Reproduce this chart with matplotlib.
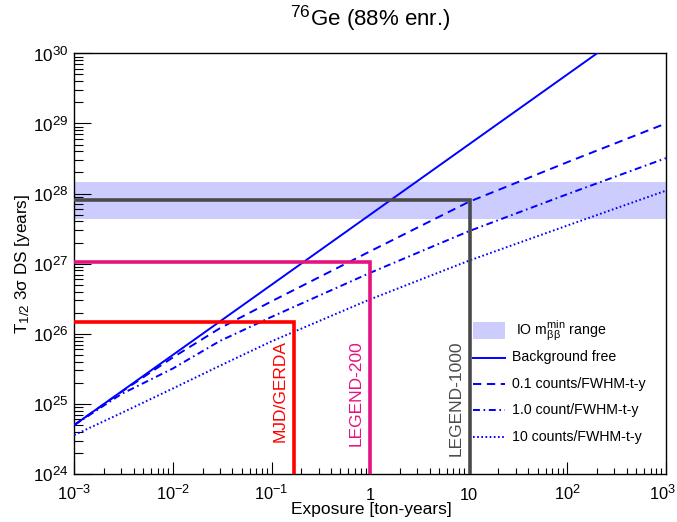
import numpy as np
import matplotlib
matplotlib.use('Agg')
import matplotlib.pyplot as plt
import matplotlib._mathtext as _mt
import matplotlib.transforms as mtransforms
from matplotlib.ticker import FixedLocator, FuncFormatter, NullFormatter
from matplotlib.patches import Rectangle
from matplotlib.lines import Line2D

_mt.SHRINK_FACTOR = 0.78

plt.rcParams['font.family'] = ['Liberation Sans', 'DejaVu Sans']
plt.rcParams['mathtext.fontset'] = 'custom'
plt.rcParams['mathtext.rm'] = 'Liberation Sans'
plt.rcParams['mathtext.it'] = 'Liberation Sans:italic'
plt.rcParams['mathtext.bf'] = 'Liberation Sans:bold'
plt.rcParams['mathtext.sf'] = 'Liberation Sans'
plt.rcParams['lines.scale_dashes'] = False

# ---------------- data ----------------
exposure_bf = [1e-3, 1e-2, 1e-1, 1, 10, 100, 1000]
t_bkg_free = [5.0e24, 5.0e25, 5.0e26, 5.0e27, 5.0e28, 5.0e29, 5.0e30]

exposure_bg = [1e-3, 3e-3, 1e-2, 3e-2, 1e-1, 1, 10, 100, 1000]
t_bg_01 = [5.0e24, 1.48e25, 4.6e25, 1.2e26, 2.9e26, 1.5e27, 7.6e27, 2.8e28, 1.0e29]
t_bg_1 = [5.0e24, 1.38e25, 3.2e25, 7.9e25, 1.74e26, 7.4e26, 2.9e27, 9.8e27, 3.2e28]
t_bg_10 = [3.6e24, 7.4e24, 1.66e25, 3.5e25, 7.8e25, 3.1e26, 1.1e27, 3.5e27, 1.1e28]

io_band = [4.3e27, 1.48e28]

exp_names = ['MJD/GERDA', 'LEGEND-200', 'LEGEND-1000']
exp_exposure = [0.168, 1.0, 10.2]
exp_t = [1.48e26, 1.04e27, 8.0e27]
exp_colors = ['#ff0000', '#e6137f', '#4a4a4a']

legend_labels = [r'IO m$_{\mathrm{ββ}}^{\mathrm{min}}$ range', 'Background free',
                 '0.1 counts/FWHM-t-y', '1.0 count/FWHM-t-y', '10 counts/FWHM-t-y']

xlim = (1e-3, 1e3)
ylim = (1e24, 1e30)

# ---------------- figure ----------------
W, H = 677, 522
fig = plt.figure(figsize=(W / 100, H / 100), dpi=100)
ax_l, ax_r, ax_t, ax_b = 74.3, 666.0, 53.3, 474.0
ax = fig.add_axes([ax_l / W, (H - ax_b) / H, (ax_r - ax_l) / W, (ax_b - ax_t) / H])
ax.set_xscale('log')
ax.set_yscale('log')
ax.set_xlim(*xlim)
ax.set_ylim(*ylim)

blue = '#0000ff'
band_color = '#ccccff'

ax.axhspan(io_band[0], io_band[1], color=band_color, lw=0, zorder=1)

ax.plot(exposure_bf, t_bkg_free, color=blue, lw=1.4, zorder=3)
ax.plot(exposure_bg, t_bg_01, color=blue, lw=1.4, ls=(0, (6, 4)), zorder=3)
ax.plot(exposure_bg, t_bg_1, color=blue, lw=1.4, ls=(0, (5, 2.6, 1.2, 2.6)), zorder=3)
ax.plot(exposure_bg, t_bg_10, color=blue, lw=1.4, ls=(0, (1.2, 1.8)), zorder=3)

for name, e, t, c in zip(exp_names, exp_exposure, exp_t, exp_colors):
    ax.plot([xlim[0], e, e], [t, t, ylim[0]], color=c, lw=2.6, zorder=4,
            solid_joinstyle='miter', clip_on=True)
    xtxt = 10 ** (np.log10(e) - 14.0 / 98.7)
    ax.text(xtxt, 0.318, name, rotation=90, color=c, fontsize=12.5,
            ha='center', va='top', transform=ax.get_xaxis_transform(), zorder=5)

# ticks
xtick_vals = [10.0 ** k for k in range(-3, 4)]

def fmt(v, pos):
    n = int(round(np.log10(v)))
    if n == 0:
        return '1'
    if n == 1:
        return '10'
    if v >= xlim[1] * 0.999:
        return ''  # drawn separately, nudged inside the canvas
    return r'$10^{%d}$' % n

ax.xaxis.set_major_locator(FixedLocator(xtick_vals))
ax.yaxis.set_major_locator(FixedLocator([10.0 ** k for k in range(24, 31)]))
ax.xaxis.set_minor_locator(FixedLocator([m * 10.0 ** k for k in range(-3, 3) for m in range(2, 10)]))
ax.yaxis.set_minor_locator(FixedLocator([m * 10.0 ** k for k in range(24, 30) for m in range(2, 10)]))
ax.xaxis.set_major_formatter(FuncFormatter(fmt))
ax.yaxis.set_major_formatter(FuncFormatter(lambda v, p: r'$10^{%d}$' % int(round(np.log10(v)))))
ax.xaxis.set_minor_formatter(NullFormatter())
ax.yaxis.set_minor_formatter(NullFormatter())

xpad = 18.5
xlab_size = 11.8
ax.tick_params(axis='x', which='major', direction='in', length=8.6, width=0.8, labelsize=xlab_size, pad=xpad,
               top=False)
ax.tick_params(axis='x', which='minor', direction='in', length=4.3, width=0.8, top=False)
ax.tick_params(axis='y', which='major', direction='in', length=12.2, width=0.8, labelsize=12.3, pad=4,
               right=False)
ax.tick_params(axis='y', which='minor', direction='in', length=6.5, width=0.8, right=False)
for t in ax.xaxis.get_major_ticks():
    t.label1.set_va('baseline')

last_tr = ax.get_xaxis_transform() + mtransforms.ScaledTranslation(-4 / 100, -xpad / 72, fig.dpi_scale_trans)
ax.text(xlim[1], 0, r'$10^{%d}$' % int(round(np.log10(xlim[1]))), transform=last_tr,
        ha='center', va='baseline', fontsize=xlab_size, clip_on=False)

for s in ax.spines.values():
    s.set_linewidth(1.0)

# axis titles
fig.text(371 / W, 1 - 514 / H, 'Exposure [ton-years]', ha='center', va='baseline', fontsize=12.5)
fig.text(23 / W, 1 - 264 / H, r'T$_{1/2}$ 3σ DS [years]', rotation=90,
         ha='center', va='center', fontsize=12.3)
fig.text(370 / W, 1 - 18 / H, r'$^{76}$Ge (88% enr.)', ha='center', va='center', fontsize=16)

# manual legend (axes fraction coordinates)
def fx(px):
    return (px - ax_l) / (ax_r - ax_l)

def fy(py):
    return (ax_b - py) / (ax_b - ax_t)

ax.add_patch(Rectangle((fx(473), fy(339)), fx(505) - fx(473), fy(322) - fy(339),
                       transform=ax.transAxes, color=band_color, lw=0, zorder=6))
row_y = [331, 357.5, 384, 410, 436.5]
styles = [None, '-', (0, (6, 4)), (0, (5, 2.6, 1.2, 2.6)), (0, (1.2, 1.8))]
for i, (lab, st) in enumerate(zip(legend_labels, styles)):
    if st is not None:
        ax.add_line(Line2D([fx(473), fx(505)], [fy(row_y[i])] * 2, transform=ax.transAxes,
                           color=blue, lw=1.4, ls=st, zorder=6))
    xt = 516 if i == 0 else 512
    ax.text(fx(xt), fy(row_y[i]), lab, transform=ax.transAxes, ha='left', va='center',
            fontsize=10.2, zorder=6)

fig.savefig('out.png', dpi=100)
